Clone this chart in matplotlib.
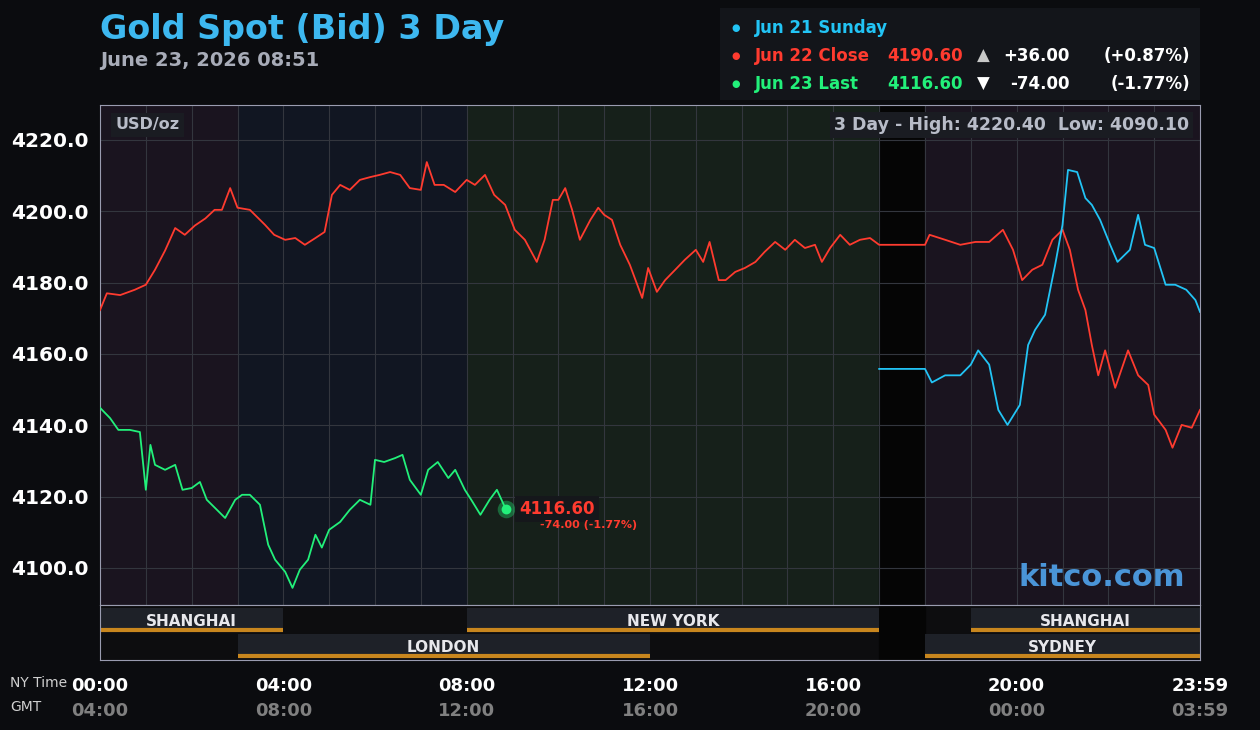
import matplotlib
matplotlib.use("Agg")
import matplotlib.pyplot as plt
import numpy as np

red_h = [0,0.15,0.44,0.76,1.0,1.2,1.42,1.64,1.85,2.07,2.3,2.5,2.66,2.84,3.0,3.27,3.6,3.8,4.04,4.26,4.47,4.7,4.9,5.06,5.24,5.45,5.67,5.9,6.1,6.33,6.55,6.76,7.0,7.13,7.3,7.5,7.75,8.0,8.18,8.4,8.6,8.84,9.05,9.27,9.53,9.7,9.88,10.0,10.15,10.3,10.47,10.7,10.87,11.0,11.17,11.35,11.56,11.83,11.96,12.15,12.33,12.55,12.76,13.0,13.16,13.3,13.5,13.65,13.86,14.07,14.3,14.5,14.73,14.95,15.16,15.38,15.6,15.75,15.93,16.15,16.36,16.58,16.8,17.0,18.0,18.1,18.44,18.77,19.1,19.4,19.7,19.92,20.12,20.34,20.56,20.78,21.0,21.16,21.34,21.5,21.64,21.78,21.93,22.15,22.43,22.65,22.87,23.0,23.25,23.4,23.6,23.82,24.0]
red_v = [4172.3,4177,4176.5,4178,4179.4,4183.6,4189,4195.3,4193.4,4196,4198,4200.4,4200.4,4206.5,4201,4200.4,4196.2,4193.4,4192,4192.5,4190.6,4192.5,4194.2,4204.6,4207.4,4206,4208.8,4209.6,4210.2,4211,4210.2,4206.5,4206,4213.8,4207.4,4207.4,4205.4,4208.8,4207.4,4210.2,4204.6,4201.8,4194.8,4192,4185.8,4192,4203.2,4203.2,4206.5,4200.4,4192,4197.6,4201,4199,4197.6,4190.6,4185,4175.7,4184.1,4177.4,4180.7,4183.6,4186.4,4189.2,4185.8,4191.4,4180.7,4180.7,4183,4184.1,4185.8,4188.6,4191.4,4189.2,4192,4189.7,4190.6,4185.8,4189.7,4193.4,4190.6,4192,4192.5,4190.6,4190.6,4193.4,4192,4190.6,4191.4,4191.4,4194.8,4189.2,4180.7,4183.6,4185,4192,4194.8,4189.2,4178,4172.3,4162.5,4154,4161,4150.5,4161,4154,4151.3,4143,4138.7,4133.7,4140.1,4139.3,4144.3]

blue_h = [17.0,18.0,18.15,18.44,18.77,19.0,19.16,19.4,19.6,19.8,20.07,20.25,20.4,20.62,20.84,21.0,21.12,21.32,21.5,21.64,21.82,22.04,22.2,22.47,22.65,22.8,23.0,23.25,23.46,23.7,23.9,24.0]
blue_v = [4155.8,4155.8,4152,4154,4154,4157,4161,4157,4144.3,4140.1,4145.7,4162.5,4166.7,4171,4185,4196.2,4211.6,4211,4203.7,4201.8,4197.6,4190.6,4185.8,4189.2,4199,4190.6,4189.7,4179.4,4179.4,4178,4175.1,4171.8]

green_h = [0,0.22,0.4,0.65,0.87,1.0,1.1,1.2,1.42,1.64,1.8,2.0,2.18,2.33,2.55,2.73,2.95,3.1,3.27,3.49,3.67,3.82,4.04,4.2,4.36,4.54,4.7,4.84,5.0,5.24,5.45,5.67,5.9,6.0,6.2,6.44,6.6,6.76,7.0,7.16,7.37,7.6,7.75,7.96,8.1,8.3,8.5,8.66,8.85]
green_v = [4144.9,4142,4138.7,4138.7,4138.1,4121.9,4134.5,4128.9,4127.5,4128.9,4121.9,4122.4,4124.1,4119.1,4116.3,4114,4119.1,4120.5,4120.5,4117.7,4106.5,4102.3,4098.9,4094.4,4099.5,4102.3,4109.3,4105.7,4110.7,4112.9,4116.3,4119.1,4117.7,4130.3,4129.7,4130.8,4131.7,4124.7,4120.5,4127.5,4129.7,4125.2,4127.5,4121.9,4119.1,4114.9,4119.1,4121.9,4116.6]

y_ticks = [4100, 4120, 4140, 4160, 4180, 4200, 4220]
ny_labels = ["00:00", "04:00", "08:00", "12:00", "16:00", "20:00", "23:59"]
gmt_labels = ["04:00", "08:00", "12:00", "16:00", "20:00", "00:00", "03:59"]
label_hours = [0, 4, 8, 12, 16, 20, 24]
sessions = [("SHANGHAI", 0, 4, 0), ("NEW YORK", 8, 17, 0), ("SHANGHAI", 19, 24, 0),
            ("LONDON", 3, 12, 1), ("SYDNEY", 18, 24, 1)]

BG = "#0b0c0f"
RED = "#ff3b2f"; BLUE = "#22c4f5"; GREEN = "#22f07a"
fig = plt.figure(figsize=(12.6, 7.3), dpi=100, facecolor=BG)
W, H = 1260, 730
def fx(x): return x / W
def fy(y): return 1 - y / H

ax = fig.add_axes([fx(100), fy(605), fx(1100), 500 / H])
ax.set_xlim(0, 24); ax.set_ylim(4089.6, 4229.8)
ax.set_facecolor(BG)
for a, b, c in [(0, 3, "#1a141f"), (3, 8, "#111622"), (8, 17, "#16201a"), (17, 18, "#050505"), (18, 24, "#1a141f")]:
    ax.axvspan(a, b, color=c, zorder=0)
for h in range(1, 24):
    ax.axvline(h, color="#33363e", lw=0.8, zorder=1)
for v in y_ticks:
    ax.axhline(v, color="#33363e", lw=0.8, zorder=1)
ax.plot(red_h, red_v, color=RED, lw=1.3, zorder=3)
ax.plot(blue_h, blue_v, color=BLUE, lw=1.3, zorder=3)
ax.plot(green_h, green_v, color=GREEN, lw=1.3, zorder=3)
ax.scatter([green_h[-1]], [green_v[-1]], s=160, color=GREEN, alpha=0.35, zorder=4, lw=0)
ax.scatter([green_h[-1]], [green_v[-1]], s=50, color=GREEN, zorder=5, lw=0)
ax.set_xticks([])
ax.set_yticks(y_ticks)
ax.set_yticklabels([f"{v:.1f}" for v in y_ticks], color="white", fontsize=14.5, fontweight="bold")
ax.tick_params(axis="y", length=0, pad=8)
for s in ax.spines.values():
    s.set_color("#9a9cb0"); s.set_linewidth(0.8)

ax.text(0.014, 0.96, "USD/oz", transform=ax.transAxes, color="#b8bcc8", fontsize=11.5, fontweight="bold",
        va="center", bbox=dict(facecolor="#1a1c22", edgecolor="none", pad=3))
ax.text(0.99, 0.96, "3 Day - High: 4220.40  Low: 4090.10", transform=ax.transAxes, color="#b8bcc8",
        fontsize=12.5, fontweight="bold", ha="right", va="center",
        bbox=dict(facecolor="#1a1c22", edgecolor="none", pad=3))
ax.text(0.986, 0.055, "kitco.com", transform=ax.transAxes, color="#4a95d8", fontsize=22,
        fontweight="bold", ha="right", va="center")
ax.annotate("4116.60", (green_h[-1], green_v[-1]), xytext=(10, 0), textcoords="offset points",
            color=RED, fontsize=12, fontweight="bold", va="center", zorder=6,
            bbox=dict(facecolor="#15171b", edgecolor="none", pad=3))
ax.annotate("-74.00 (-1.77%)", (green_h[-1], green_v[-1]), xytext=(25, -12), textcoords="offset points",
            color=RED, fontsize=8, fontweight="bold", va="center", zorder=6)

bx = fig.add_axes([fx(100), fy(660), fx(1100), 55 / H])
bx.set_xlim(0, 24); bx.set_ylim(0, 1)
bx.set_facecolor("#0d0d0f")
bx.axvspan(17, 18, color="#050505")
for s in bx.spines.values():
    s.set_color("#9a9cb0"); s.set_linewidth(0.8)
bx.set_xticks([]); bx.set_yticks([])
for name, a, b, row in sessions:
    y0, y1 = (0.527, 0.945) if row == 0 else (0.055, 0.473)
    bx.fill_between([a, b], y0, y1, color="#1e2128", lw=0)
    bx.plot([a, b], [y0 + 0.02, y0 + 0.02], color="#c8861e", lw=3, solid_capstyle="butt")
    bx.text((a + b) / 2, (y0 + y1) / 2 - 0.03, name, color="#e8e8ec", fontsize=11, fontweight="bold",
            ha="center", va="center")

for h, ny, g in zip(label_hours, ny_labels, gmt_labels):
    x = 100 + h / 24 * 1100
    fig.text(fx(x), fy(686), ny, color="white", fontsize=13, fontweight="bold", ha="center", va="center")
    fig.text(fx(x), fy(711), g, color="#808080", fontsize=13, fontweight="bold", ha="center", va="center")
fig.text(fx(10), fy(683), "NY Time", color="#d0d0d0", fontsize=10, va="center")
fig.text(fx(10), fy(707), "GMT", color="#d0d0d0", fontsize=10, va="center")

fig.text(fx(100), fy(30), "Gold Spot (Bid) 3 Day", color="#3db8f0", fontsize=24, fontweight="bold", va="center")
fig.text(fx(100), fy(60), "June 23, 2026 08:51", color="#a8acb8", fontsize=14, fontweight="bold", va="center")

fig.patches.append(plt.Rectangle((fx(720), fy(100)), fx(480), 92 / H, transform=fig.transFigure,
                                 facecolor="#13151a", edgecolor="none"))
rows = [(28, BLUE, "Jun 21 Sunday", "", "", "", "", "white"),
        (56, RED, "Jun 22 Close", "4190.60", "▲", "+36.00", "(+0.87%)", "#c8c8c8"),
        (84, GREEN, "Jun 23 Last", "4116.60", "▼", "-74.00", "(-1.77%)", "white")]
for y, c, name, price, arr, ch, pct, ac in rows:
    fig.text(fx(736), fy(y), "●", color=c, fontsize=7, ha="center", va="center")
    fig.text(fx(755), fy(y), name, color=c, fontsize=12, fontweight="bold", va="center")
    if price:
        fig.text(fx(887), fy(y), price, color=c, fontsize=12, fontweight="bold", va="center")
        fig.text(fx(983), fy(y), arr, color=ac, fontsize=12, ha="center", va="center")
        fig.text(fx(1070), fy(y), ch, color="white", fontsize=12, fontweight="bold", ha="right", va="center")
        fig.text(fx(1190), fy(y), pct, color="white", fontsize=12, fontweight="bold", ha="right", va="center")

fig.savefig("out.png", dpi=100, facecolor=BG)
